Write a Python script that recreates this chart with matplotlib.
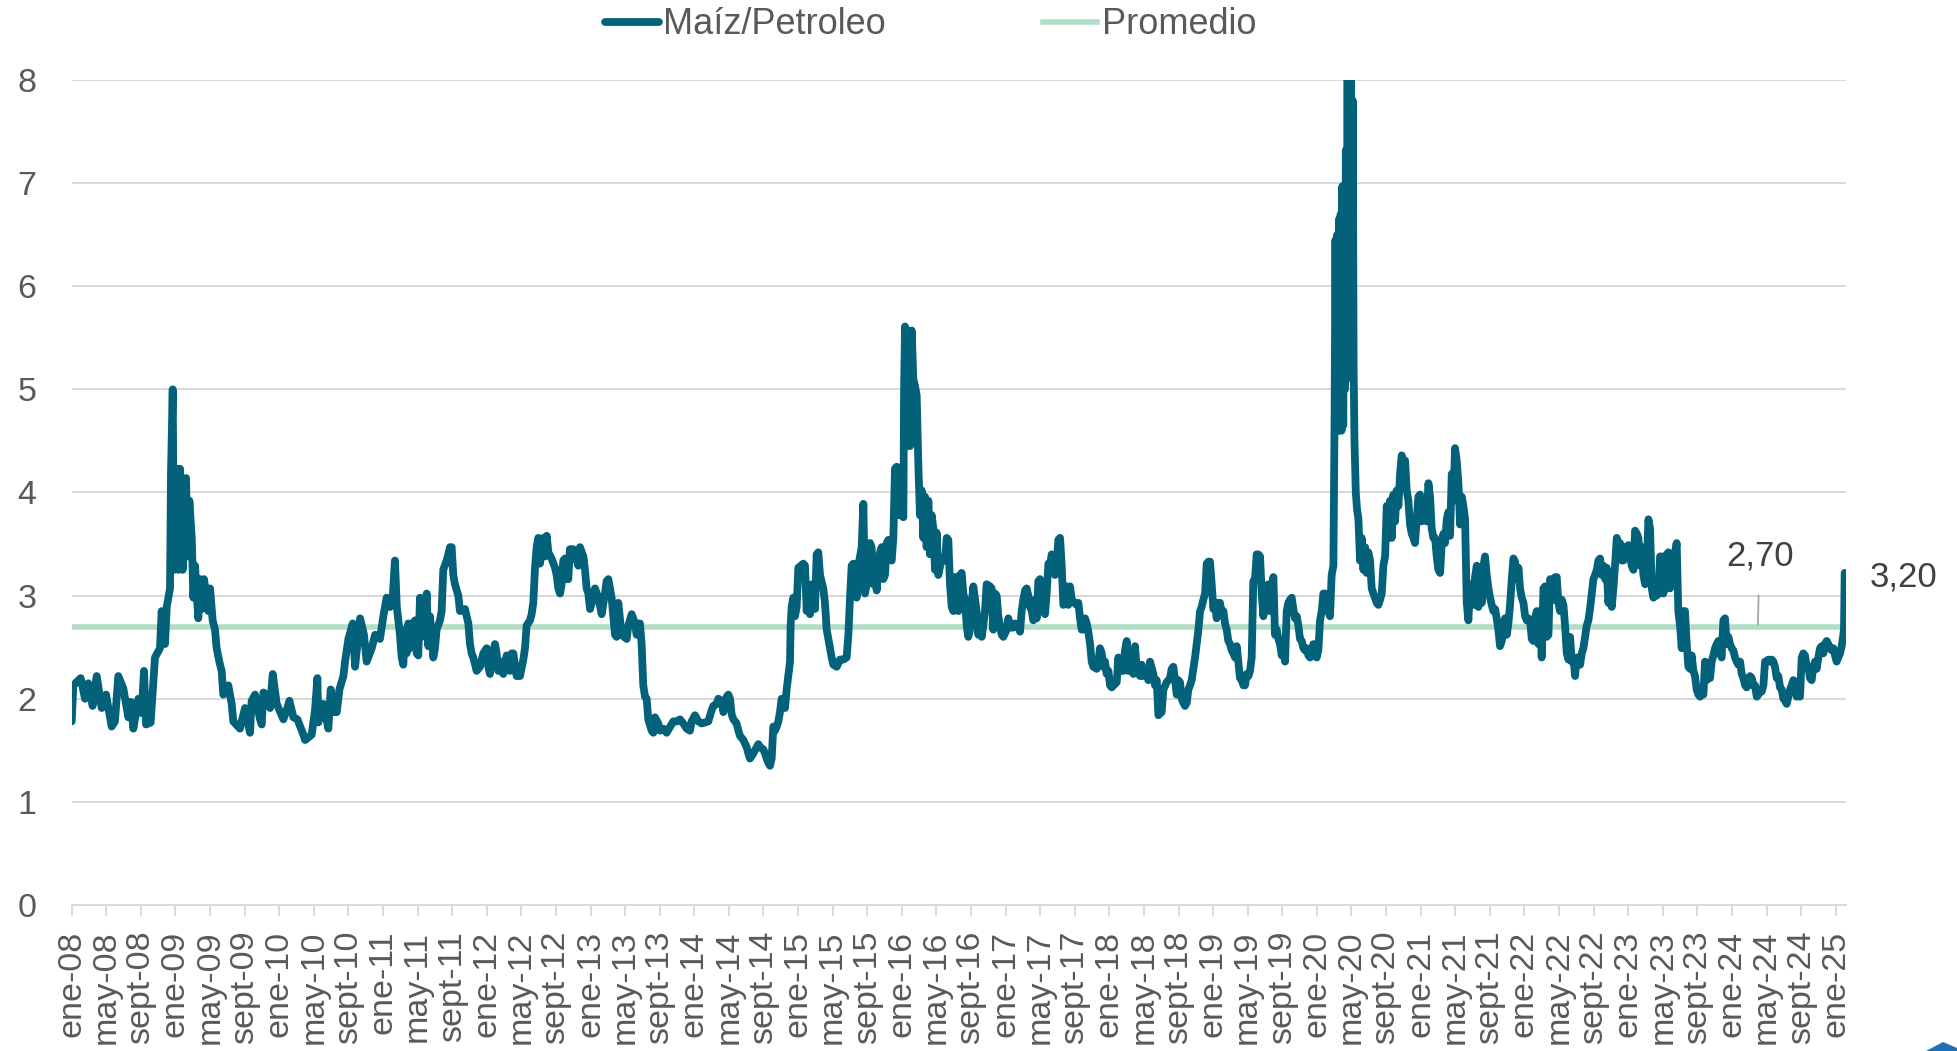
import matplotlib
matplotlib.use("Agg")
import matplotlib.pyplot as plt
from matplotlib.patches import Polygon

# ---------------- data (months since ene-08, ratio) ----------------
meses = [
    0.0, 0.19, 1.04, 1.54, 1.92, 2.42, 2.89, 3.47, 3.97, 4.62, 5.0, 5.39, 5.97, 6.55, 6.82, 7.13, 7.71, 8.09,
    8.36, 8.6, 9.13, 9.63, 10.21, 10.4, 10.79, 10.99, 11.37, 11.48, 11.68, 11.83, 12.14, 12.33, 12.53, 12.83,
    13.22, 13.41, 13.61, 13.88, 14.07, 14.26, 14.64, 14.84, 15.03, 15.3, 15.8, 16.0, 16.3, 16.57, 16.76, 17.07,
    17.34, 17.53, 18.11, 18.5, 18.69, 19.46, 20.04, 20.62, 20.81, 21.2, 21.78, 21.97, 22.17, 22.55, 22.94,
    23.25, 23.71, 24.48, 24.86, 25.18, 25.64, 26.1, 26.71, 26.99, 27.75, 28.14, 28.41, 28.52, 29.1, 29.68,
    29.95, 30.26, 30.65, 30.96, 31.42, 31.61, 32.0, 32.5, 32.77, 33.35, 33.8, 34.11, 34.7, 35.08,
    # 2011 - 2013
    35.65, 36.04, 36.42, 36.81, 37.12, 37.38, 37.6, 37.96, 38.16, 38.35, 38.54, 38.73, 38.93, 39.12, 39.31,
    39.5, 39.7, 39.89, 40.08, 40.28, 40.47, 40.66, 40.86, 41.05, 41.24, 41.43, 41.82, 42.01, 42.2, 42.59,
    42.78, 42.97, 43.36, 43.55, 43.75, 43.94, 44.13, 44.32, 44.71, 44.9, 45.48, 45.87, 46.06, 46.25, 46.44,
    46.83, 47.22, 47.6, 47.99, 48.18, 48.37, 48.56, 48.95, 49.14, 49.33, 49.72, 49.91, 50.3, 50.68, 50.88,
    51.07, 51.45, 51.84, 52.23, 52.42, 52.61, 53.0, 53.19, 53.38, 53.58, 53.77, 53.96, 54.15, 54.54, 54.73,
    54.93, 55.12, 55.5, 55.89, 56.08, 56.27, 56.47, 56.66, 56.85, 57.04, 57.24, 57.43, 57.62, 58.01, 58.4,
    58.59, 58.78, 59.17, 59.36, 59.55, 59.75, 59.94, 60.32, 60.52, 60.9, 61.29, 61.67, 61.86, 62.06, 62.44,
    62.83, 63.02, 63.21, 63.6, 64.18, 64.37, 64.76, 65.14, 65.33, 65.53, 65.72, 65.91, 66.1, 66.3, 66.49,
    66.68, 67.07, 67.26, 67.45, 67.84, 68.03, 68.42, 68.8, 69.57, 69.96, 70.35, 70.73, 71.12, 71.5, 71.69,
    72.08, 72.47, 72.85, 73.62,
    # 2014 - 2016
    74.01, 74.2, 74.59, 74.78, 75.17, 75.36, 75.55, 75.75, 75.94, 76.13, 76.32, 76.52, 76.9, 77.1, 77.29,
    77.67, 78.06, 78.25, 78.44, 78.83, 79.21, 79.41, 79.6, 79.98, 80.18, 80.37, 80.56, 80.76, 80.95, 81.14,
    81.33, 81.53, 81.72, 81.91, 82.1, 82.49, 82.68, 82.87, 83.07, 83.14, 83.26, 83.45, 83.65, 83.84, 84.03,
    84.61, 84.8, 85.0, 85.19, 85.38, 85.57, 85.96, 86.15, 86.34, 86.54, 86.92, 87.11, 87.31, 87.7, 87.89,
    88.08, 88.47, 88.85, 89.24, 89.62, 89.82, 90.01, 90.2, 90.39, 90.59, 90.78, 90.97, 91.17, 91.36, 91.55,
    91.74, 92.13, 92.32, 92.51, 92.71, 92.9, 93.09, 93.29, 93.48, 93.67, 93.86, 94.06, 94.25, 94.44, 94.63,
    94.83, 95.02, 95.21, 95.41, 95.6, 95.98, 96.18, 96.26, 96.37, 96.56, 96.75, 96.95, 97.14, 97.33, 97.53,
    97.72, 97.91, 98.1, 98.3, 98.49, 98.68, 98.87, 99.07, 99.26, 99.45, 99.65, 99.84, 100.03, 100.22, 100.61,
    101.0, 101.19, 101.38, 101.57, 101.77, 101.96, 102.15, 102.34, 102.54, 102.73, 102.92, 103.11, 103.31,
    103.5, 103.69, 103.88, 104.08, 104.27, 104.65, 104.85, 105.04, 105.24, 105.42, 105.62, 105.81, 106.2,
    106.39, 106.58, 106.78, 106.97, 107.16, 107.55, 107.74, 108.13, 108.32, 108.51, 108.9, 109.09, 109.48,
    109.67, 109.86, 110.05, 110.25,
    # 2017 - 2019
    110.44, 110.63, 110.83, 111.02, 111.21, 111.4, 111.6, 111.79, 111.98, 112.18, 112.37, 112.56, 112.75,
    112.95, 113.14, 113.33, 113.53, 113.72, 113.91, 114.1, 114.3, 114.49, 114.68, 114.87, 115.07, 115.26,
    115.45, 115.65, 115.84, 116.22, 116.42, 116.61, 116.8, 117.0, 117.19, 117.38, 117.57, 117.77, 117.96,
    118.15, 118.54, 118.73, 118.92, 119.12, 119.31, 119.5, 119.69, 119.89, 120.08, 120.27, 120.85, 121.04,
    121.24, 121.62, 121.81, 122.01, 122.2, 122.39, 122.58, 122.78, 122.97, 123.16, 123.36, 123.55, 123.74,
    123.93, 124.32, 124.51, 124.7, 125.09, 125.28, 125.48, 125.67, 126.05, 126.25, 126.63, 127.02, 127.21,
    127.4, 127.6, 127.79, 127.98, 128.17, 128.37, 128.56, 128.75, 128.95, 129.14, 129.33, 129.52, 129.72,
    129.91, 130.1, 130.3, 130.49, 130.68, 130.87, 131.07, 131.26, 131.45, 131.64, 131.84, 132.03, 132.22,
    132.41, 132.61, 132.8, 132.99, 133.19, 133.38, 133.57, 133.76, 133.96, 134.15, 134.34, 134.53, 134.73,
    134.92, 135.11, 135.31, 135.5, 135.69, 135.88, 136.08, 136.27, 136.46, 136.65, 136.85, 137.04, 137.23,
    137.43, 137.62, 137.81, 138.0, 138.2, 138.39, 138.58, 138.77, 138.97, 139.16, 139.35, 139.55, 139.74,
    139.93, 140.13, 140.32, 140.51, 140.7, 140.9, 141.09, 141.28, 141.47, 141.67, 141.86, 142.05, 142.25,
    142.44, 142.63, 142.82, 143.02, 143.21, 143.4, 143.59, 143.79, 143.98, 144.17, 144.37, 144.56, 144.75,
    144.94, 145.14, 145.33, 145.52, 145.71, 145.91,
    # 2020 spike
    146.05, 146.15, 146.25, 146.35, 146.45, 146.55, 146.65, 146.75, 146.85, 146.95, 147.05, 147.15, 147.25,
    147.35, 147.45, 147.55, 147.65, 147.75, 147.85, 147.95, 148.05, 148.15, 148.25, 148.35, 148.5, 148.65,
    148.8,
    # 2020 - 2022
    148.99, 149.18, 149.38, 149.57, 149.76, 149.95, 150.15, 150.34, 150.54, 150.92, 151.11, 151.31, 151.5,
    151.69, 151.89, 152.08, 152.27, 152.46, 152.66, 152.85, 153.04, 153.23, 153.43, 153.62, 153.81, 154.0,
    154.2, 154.39, 154.58, 154.77, 154.97, 155.16, 155.35, 155.55, 155.74, 155.93, 156.12, 156.32, 156.51,
    156.7, 156.9, 157.09, 157.28, 157.47, 157.67, 157.86, 158.05, 158.25, 158.44, 158.63, 158.82, 159.02,
    159.21, 159.4, 159.6, 159.79, 159.98, 160.17, 160.37, 160.56, 160.75, 160.94, 161.14, 161.33, 161.52,
    161.72, 161.91, 162.1, 162.29, 162.49, 162.68, 162.87, 163.07, 163.26, 163.45, 163.64, 163.84, 164.03,
    164.22, 164.42, 164.61, 164.8, 164.99, 165.18, 165.38, 165.57, 165.76, 165.96, 166.15, 166.34, 166.54,
    166.73, 166.92, 167.11, 167.31, 167.5, 167.69, 167.89, 168.08, 168.27, 168.46, 168.66, 168.85, 169.04,
    169.23, 169.43, 169.62, 169.81, 170.0, 170.2, 170.39, 170.58, 170.78, 170.97, 171.16, 171.35, 171.55,
    171.74, 171.93, 172.12, 172.32, 172.51, 172.7, 172.9, 173.09, 173.28, 173.48, 173.67, 173.86, 174.05,
    174.25, 174.44, 174.63, 174.82, 175.02, 175.21, 175.4, 175.59, 175.79, 175.98, 176.17, 176.37, 176.56,
    176.75, 176.94, 177.14, 177.33, 177.52, 177.71, 177.91, 178.1, 178.29, 178.48, 178.68, 178.87, 179.06,
    179.26, 179.45, 179.64, 179.84, 180.03, 180.22, 180.41, 180.61, 180.8, 181.0, 181.18, 181.38, 181.57,
    181.76, 181.96, 182.15, 182.34, 182.53, 182.73, 182.92, 183.11, 183.3, 183.5, 183.69, 183.88, 184.07,
    184.27, 184.46, 184.65, 184.84,
    # 2023 - 2025
    185.03, 185.23, 185.42, 185.61, 185.8, 186.0, 186.19, 186.38, 186.57, 186.77, 186.96, 187.15, 187.35,
    187.54, 187.73, 187.92, 188.12, 188.31, 188.5, 188.7, 188.89, 189.08, 189.28, 189.47, 189.66, 189.85,
    190.05, 190.24, 190.43, 190.62, 190.81, 191.01, 191.2, 191.39, 191.59, 191.78, 191.97, 192.16, 192.36,
    192.55, 192.74, 192.94, 193.13, 193.32, 193.52, 193.71, 193.9, 194.09, 194.29, 194.48, 194.67, 194.87,
    195.06, 195.25, 195.44, 195.64, 195.83, 196.02, 196.21, 196.41, 196.6, 196.79, 196.98, 197.18, 197.37,
    197.56, 197.76, 197.95, 198.14, 198.33, 198.53, 198.72, 198.91, 199.1, 199.3, 199.49, 199.68, 199.87,
    200.07, 200.26, 200.45, 200.65, 200.84, 201.03, 201.22, 201.42, 201.61, 201.8, 201.99, 202.19, 202.38,
    202.57, 202.76, 202.96, 203.15, 203.34, 203.54, 203.73, 203.92, 204.11, 204.31, 204.5, 204.69, 204.89,
    204.96, 205.04,
]

maiz_petroleo = [
    1.78, 2.13, 2.20, 2.00, 2.15, 1.93, 2.22, 1.91, 2.04, 1.73, 1.78, 2.22, 2.10, 1.82, 1.97, 1.71, 2.00, 1.86,
    2.27, 1.75, 1.77, 2.40, 2.49, 2.85, 2.53, 2.89, 3.07, 4.18, 5.00, 3.25, 4.23, 3.25, 4.23, 3.25,
    4.14, 3.38, 3.92, 3.56, 2.98, 3.29, 2.78, 3.16, 2.87, 3.16, 2.85, 3.07, 2.76, 2.67, 2.49, 2.36,
    2.27, 2.04, 2.13, 1.95, 1.78, 1.71, 1.91, 1.67, 1.98, 2.04, 1.80, 1.75, 2.06, 2.04, 1.91,
    2.24, 1.95, 1.80, 1.89, 1.98, 1.82, 1.80, 1.67, 1.60, 1.65, 1.89, 2.20, 1.77, 1.95, 1.71,
    2.09, 1.87, 1.87, 2.09, 2.22, 2.36, 2.58, 2.73, 2.31, 2.78, 2.62, 2.36, 2.49, 2.62,
    # 2011 - 2013
    2.58, 2.80, 2.98, 2.89, 2.98, 3.34, 2.89, 2.62, 2.40, 2.33, 2.67, 2.44, 2.73, 2.49, 2.73,
    2.58, 2.76, 2.44, 2.42, 2.98, 2.60, 2.85, 2.76, 3.02, 2.51, 2.80, 2.40, 2.49, 2.67, 2.76,
    2.85, 3.25, 3.34, 3.40, 3.47, 3.47, 3.20, 3.11, 3.00, 2.85, 2.87, 2.73, 2.53, 2.44, 2.40,
    2.27, 2.31, 2.44, 2.49, 2.31, 2.24, 2.38, 2.53, 2.44, 2.27, 2.36, 2.24, 2.42, 2.27, 2.44,
    2.44, 2.22, 2.22, 2.38, 2.49, 2.71, 2.76, 2.82, 2.93, 3.27, 3.47, 3.56, 3.31, 3.56, 3.38,
    3.58, 3.42, 3.36, 3.27, 3.20, 3.07, 3.02, 3.11, 3.34, 3.36, 3.16, 3.16, 3.45, 3.45, 3.34,
    3.29, 3.47, 3.38, 3.25, 3.07, 3.02, 2.87, 2.98, 3.07, 2.98, 2.82, 3.02, 3.14, 3.16, 2.98,
    2.62, 2.60, 2.93, 2.62, 2.58, 2.71, 2.82, 2.73, 2.62, 2.73, 2.73, 2.53, 2.13, 2.02, 2.00,
    1.80, 1.69, 1.67, 1.82, 1.76, 1.69, 1.71, 1.67, 1.78, 1.78, 1.80, 1.76, 1.71, 1.69, 1.78,
    1.84, 1.78, 1.76, 1.78,
    # 2014 - 2016
    1.89, 1.93, 1.95, 2.00, 1.98, 1.87, 1.93, 2.02, 2.04, 2.00, 1.85, 1.80, 1.76, 1.69, 1.64,
    1.60, 1.53, 1.47, 1.42, 1.47, 1.53, 1.56, 1.53, 1.51, 1.47, 1.42, 1.38, 1.35, 1.42, 1.73,
    1.69, 1.73, 1.78, 1.87, 2.00, 1.91, 2.09, 2.22, 2.36, 2.71, 2.89, 2.98, 2.80, 2.89, 3.27,
    3.31, 3.29, 2.85, 3.07, 2.82, 3.11, 2.87, 3.40, 3.42, 3.20, 3.07, 2.93, 2.67, 2.49, 2.40,
    2.33, 2.31, 2.38, 2.38, 2.40, 2.62, 2.98, 3.29, 3.31, 3.16, 2.98, 3.29, 3.38, 3.47, 3.89,
    3.02, 3.20, 3.51, 3.47, 3.11, 3.36, 3.05, 3.34, 3.42, 3.47, 3.16, 3.20, 3.51, 3.54, 3.38,
    3.34, 3.56, 4.23, 4.25, 3.78, 3.78, 3.76, 4.99, 5.61, 4.45, 5.57, 4.45, 5.57, 5.10, 5.03,
    4.94, 4.27, 3.78, 4.02, 3.56, 3.96, 3.47, 3.92, 3.40, 3.78, 3.65, 3.25, 3.61, 3.20, 3.36,
    3.34, 3.56, 3.54, 3.11, 2.89, 2.85, 3.18, 3.14, 2.85, 3.20, 3.22, 3.02, 2.96,
    2.71, 2.60, 2.67, 2.93, 3.09, 2.85, 2.62, 2.76, 2.60, 2.71, 2.85, 3.11, 3.09,
    3.07, 2.67, 3.02, 3.00, 2.80, 2.62, 2.60, 2.67, 2.78, 2.69, 2.69, 2.73, 2.71,
    2.65, 2.85, 2.96, 3.05,
    # 2017 - 2019
    3.07, 3.00, 2.89, 2.85, 2.76, 2.96, 2.78, 3.14, 3.16, 3.07, 2.85, 2.82, 3.02,
    3.31, 3.29, 3.40, 3.38, 3.20, 3.31, 3.54, 3.56, 3.29, 2.91, 2.93, 3.09, 2.91,
    3.09, 2.96, 2.94, 2.91, 2.93, 2.78, 2.67, 2.67, 2.78, 2.73, 2.65, 2.53, 2.36,
    2.31, 2.29, 2.36, 2.49, 2.44, 2.31, 2.36, 2.24, 2.27, 2.13, 2.11, 2.16, 2.40,
    2.27, 2.27, 2.47, 2.56, 2.27, 2.31, 2.42, 2.24, 2.51, 2.29, 2.27, 2.22, 2.33,
    2.22, 2.24, 2.18, 2.36, 2.24, 2.13, 2.18, 1.84, 1.87, 2.09, 2.16, 2.20, 2.29,
    2.31, 2.18, 2.04, 2.18, 2.16, 2.00, 1.96, 1.93, 1.96, 2.09, 2.13, 2.18, 2.29,
    2.40, 2.53, 2.67, 2.85, 2.89, 2.96, 3.02, 3.31, 3.33, 3.33, 3.11, 2.87, 2.93,
    2.78, 2.93, 2.93, 2.82, 2.85, 2.73, 2.67, 2.56, 2.53, 2.47, 2.44, 2.40, 2.51,
    2.36, 2.20, 2.18, 2.13, 2.13, 2.24, 2.22, 2.27, 2.40, 3.14, 3.16, 3.40, 3.40,
    3.38, 3.02, 2.80, 2.93, 3.07, 3.11, 2.85, 2.98, 3.18, 2.62, 2.67, 2.58, 2.53,
    2.42, 2.47, 2.36, 2.85, 2.93, 2.96, 2.98, 2.87, 2.78, 2.80, 2.71, 2.58, 2.56,
    2.49, 2.47, 2.49, 2.42, 2.40, 2.44, 2.53, 2.51, 2.40, 2.47, 2.76, 2.85, 3.02,
    3.02, 2.98, 2.85, 2.80, 3.20, 3.29,
    # 2020 spike
    4.75, 6.45, 4.70, 6.50, 4.60, 6.65, 4.60, 6.70, 4.60, 6.97, 4.65, 6.97, 5.00,
    7.32, 5.10, 8.50, 5.20, 8.50, 5.20, 8.40, 5.30, 7.80, 5.20, 4.50, 4.00, 3.83,
    3.75,
    # 2020 - 2022
    3.34, 3.56, 3.25, 3.47, 3.22, 3.42, 3.34, 3.07, 3.02, 2.93, 2.91, 2.96, 3.02,
    3.29, 3.38, 3.87, 3.56, 3.92, 3.56, 3.98, 3.72, 4.02, 3.87, 4.18, 4.36, 4.27,
    4.31, 4.02, 3.92, 3.69, 3.60, 3.56, 3.51, 3.74, 3.96, 3.98, 3.72, 3.76, 3.94,
    3.72, 4.09, 3.96, 3.65, 3.56, 3.56, 3.38, 3.25, 3.22, 3.51, 3.60, 3.51, 3.74,
    3.81, 3.58, 4.18, 3.92, 4.43, 4.31, 4.09, 3.69, 3.96, 3.87, 3.74, 2.93, 2.76,
    3.07, 3.11, 2.91, 3.18, 3.29, 2.89, 3.11, 2.93, 3.29, 3.38, 3.20, 3.07, 2.98,
    2.91, 2.85, 2.87, 2.78, 2.67, 2.51, 2.56, 2.65, 2.78, 2.62, 2.73, 2.91, 3.16,
    3.36, 3.33, 3.16, 3.27, 3.07, 2.98, 2.93, 2.80, 2.76, 2.78, 2.76, 2.58, 2.56,
    2.78, 2.85, 2.53, 2.85, 2.40, 3.07, 3.09, 2.60, 2.62, 3.16, 3.14, 2.96, 3.18,
    3.18, 2.93, 2.85, 2.96, 2.91, 2.71, 2.44, 2.38, 2.60, 2.36, 2.40, 2.22, 2.40,
    2.36, 2.33, 2.44, 2.49, 2.60, 2.71, 2.76, 2.87, 3.02, 3.16, 3.20, 3.25, 3.34,
    3.36, 3.20, 3.29, 3.16, 3.27, 2.93, 3.07, 2.89, 3.07, 3.29, 3.56, 3.47, 3.51,
    3.34, 3.34, 3.47, 3.47, 3.49, 3.38, 3.29, 3.25, 3.63, 3.60, 3.56, 3.29, 3.47,
    3.20, 3.11, 3.29, 3.74, 3.65, 3.07, 2.98, 3.02, 3.00, 3.02, 3.38, 3.38, 3.02,
    3.11, 3.40, 3.42, 3.07,
    # 2023 - 2025
    3.16, 3.20, 3.42, 3.51, 2.85, 2.71, 2.49, 2.85, 2.85, 2.53, 2.31, 2.29, 2.42,
    2.27, 2.22, 2.09, 2.04, 2.02, 2.07, 2.04, 2.36, 2.18, 2.22, 2.20, 2.36, 2.42,
    2.49, 2.53, 2.56, 2.44, 2.40, 2.76, 2.78, 2.53, 2.60, 2.53, 2.49, 2.47, 2.40,
    2.36, 2.33, 2.36, 2.24, 2.20, 2.13, 2.11, 2.13, 2.22, 2.20, 2.13, 2.13, 2.02,
    2.04, 2.07, 2.07, 2.13, 2.36, 2.36, 2.38, 2.36, 2.38, 2.36, 2.31, 2.20, 2.22,
    2.11, 2.09, 2.00, 1.98, 1.95, 2.02, 2.09, 2.13, 2.18, 2.16, 2.02, 2.04, 2.02,
    2.40, 2.44, 2.42, 2.31, 2.31, 2.20, 2.18, 2.31, 2.36, 2.29, 2.40, 2.49, 2.51,
    2.44, 2.53, 2.56, 2.53, 2.49, 2.47, 2.49, 2.42, 2.36, 2.40, 2.44, 2.51, 2.62,
    2.69, 3.22,
]

promedio = 2.70
etiqueta_promedio = "2,70"
etiqueta_ultimo = "3,20"
serie_nombres = ["Maíz/Petroleo", "Promedio"]
meses_etiqueta = ["ene", "may", "sept"]
anios_etiqueta = list(range(8, 26))

# ---------------- style ----------------
c_line = "#03617A"
c_avg = "#B2DDC7"
c_text = "#595959"
c_grid = "#D9D9D9"
fam = ["Liberation Sans", "DejaVu Sans"]
plt.rcParams["font.family"] = fam

fig = plt.figure(figsize=(19.57, 10.51), dpi=100)
ax = fig.add_axes([0.03664, 0.13892, 0.90650, 0.78497])

x_end = 205.16
ax.plot(meses, maiz_petroleo, color=c_line, lw=5.6, solid_joinstyle="round",
        solid_capstyle="round", label=serie_nombres[0], zorder=3)
ax.plot([0, x_end], [promedio, promedio], color=c_avg, lw=4.0, label=serie_nombres[1], zorder=2)

ax.set_xlim(0, x_end)
ax.set_ylim(0, 8)

# ticks
tick_pos = []
tick_lab = []
k = 0
for a in anios_etiqueta:
    for m in meses_etiqueta:
        pos = k * 4
        if pos <= 204:
            tick_pos.append(pos)
            tick_lab.append(f"{m}-{a:02d}")
        k += 1
ax.set_xticks(tick_pos)
ax.set_xticklabels(tick_lab, rotation=90, ha="center", va="top")
ax.tick_params(axis="x", colors=c_grid, length=8, width=1.44, direction="out", pad=10.5,
               labelsize=24.5, labelcolor=c_text)
ax.set_yticks(range(0, 9))
ax.tick_params(axis="y", length=0, pad=25.5, labelsize=24.5, labelcolor=c_text)

ax.grid(axis="y", color=c_grid, lw=1.44, zorder=0)
ax.set_axisbelow(True)
for s in ["top", "right", "left"]:
    ax.spines[s].set_visible(False)
ax.spines["bottom"].set_color(c_grid)
ax.spines["bottom"].set_linewidth(1.44)
ax.spines["bottom"].set_zorder(1)

# data labels
ax.annotate(etiqueta_promedio, xy=(195.0, promedio + 0.02), xytext=(195.2, 3.38),
            ha="center", va="center", fontsize=25, color="#404040",
            arrowprops=dict(arrowstyle="-", color="#A6A6A6", lw=1.3, shrinkA=14, shrinkB=0))
ax.text(211.8, 3.18, etiqueta_ultimo, ha="center", va="center", fontsize=25,
        color="#404040", clip_on=False)

# legend
leg = fig.legend(loc="center", bbox_to_anchor=(0.4755, 0.9765), ncol=2, frameon=False,
                 fontsize=26, handlelength=1.5, handletextpad=0.12, columnspacing=4.35,
                 labelcolor=c_text)

# small corner mark
fig.patches.append(Polygon([[1926 / 1957, 0.0], [1943 / 1957, 1 - 1042 / 1051],
                            [1.0, 1 - 1048 / 1051], [1.0, 0.0]], closed=True,
                           transform=fig.transFigure, facecolor="#1F6FB5", edgecolor="none"))

fig.savefig("out.png", dpi=100)
